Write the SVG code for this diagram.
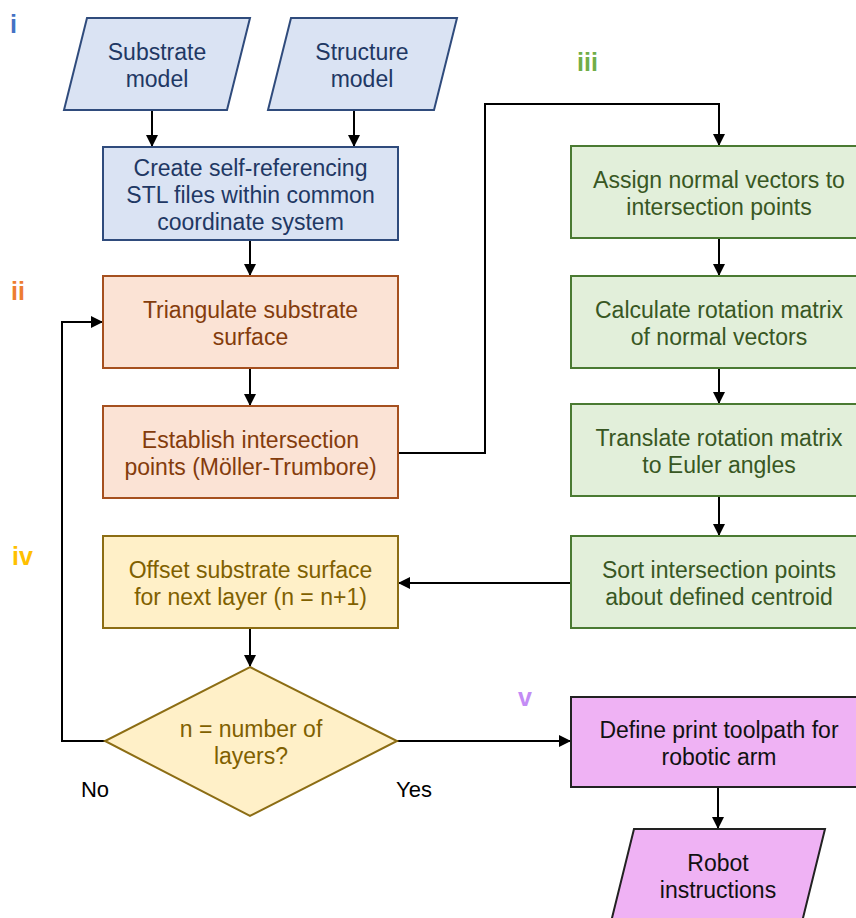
<svg xmlns="http://www.w3.org/2000/svg" width="856" height="918" viewBox="0 0 856 918">
<style>
text{font-family:"Liberation Sans",Arial,sans-serif;font-size:23px;text-anchor:middle}
.lab{font-weight:bold;font-size:25px;text-anchor:start}
.blue rect,.blue path{fill:#dae3f3;stroke:#2f4b7c;stroke-width:2}
.blue text{fill:#1f3864}
.orange rect{fill:#fbe3d5;stroke:#a5501f;stroke-width:2}
.orange text{fill:#843c0c}
.green rect{fill:#e2efda;stroke:#4a7a32;stroke-width:2}
.green text{fill:#385723}
.yellow rect,.yellow path{fill:#fff0c8;stroke:#8c6d14;stroke-width:2}
.yellow text{fill:#7f6000}
.purple rect,.purple path{fill:#efb2f4;stroke:#222;stroke-width:2}
.purple text{fill:#111}
.conn path{fill:none;stroke:#000;stroke-width:2}
.yn{font-size:22px;fill:#000}
</style>
<defs>
<marker id="ah" markerWidth="12" markerHeight="12" refX="11" refY="6" orient="auto" markerUnits="userSpaceOnUse">
<path d="M0,0 L12,6 L0,12 Z" fill="#000"/>
</marker>
</defs>

<text class="lab" x="10" y="33" fill="#4472c4">i</text>
<text class="lab" x="11" y="300" fill="#ed7d31">ii</text>
<text class="lab" x="577" y="71" fill="#70ad47">iii</text>
<text class="lab" x="12" y="565" fill="#ffc000">iv</text>
<text class="lab" x="518" y="706" fill="#c38cf5">v</text>

<g class="conn">
<path d="M152,110 V146" marker-end="url(#ah)"/>
<path d="M354,110 V146" marker-end="url(#ah)"/>
<path d="M250,240 V275" marker-end="url(#ah)"/>
<path d="M250,368 V405" marker-end="url(#ah)"/>
<path d="M398,453 H485 V104 H719 V145" marker-end="url(#ah)"/>
<path d="M719,238 V275" marker-end="url(#ah)"/>
<path d="M719,368 V403" marker-end="url(#ah)"/>
<path d="M719,496 V535" marker-end="url(#ah)"/>
<path d="M571,583 H399" marker-end="url(#ah)"/>
<path d="M250,628 V666" marker-end="url(#ah)"/>
<path d="M105,741 H62 V322 H102" marker-end="url(#ah)"/>
<path d="M397,741 H570" marker-end="url(#ah)"/>
<path d="M718,787 V828" marker-end="url(#ah)"/>
<text class="yn" x="95" y="797">No</text>
<text class="yn" x="414" y="797">Yes</text>
</g>

<g id="substrate-model" class="blue">
<path d="M87,18 H250 L227,110 H64 Z"/>
<text x="157" y="60">Substrate</text>
<text x="157" y="87">model</text>
</g>
<g id="structure-model" class="blue">
<path d="M291,18 H457 L434,110 H268 Z"/>
<text x="362" y="60">Structure</text>
<text x="362" y="87">model</text>
</g>
<g id="create-stl" class="blue">
<rect x="103" y="147" width="295" height="93"/>
<text x="250.5" y="176">Create self-referencing</text>
<text x="250.5" y="203">STL files within common</text>
<text x="250.5" y="230">coordinate system</text>
</g>

<g id="triangulate" class="orange">
<rect x="103" y="276" width="295" height="92"/>
<text x="250.5" y="318">Triangulate substrate</text>
<text x="250.5" y="345">surface</text>
</g>
<g id="establish" class="orange">
<rect x="103" y="406" width="295" height="92"/>
<text x="250.5" y="448">Establish intersection</text>
<text x="250.5" y="475">points (Möller-Trumbore)</text>
</g>

<g id="assign" class="green">
<rect x="571" y="146" width="296" height="92"/>
<text x="719" y="188">Assign normal vectors to</text>
<text x="719" y="215">intersection points</text>
</g>
<g id="calculate" class="green">
<rect x="571" y="276" width="296" height="92"/>
<text x="719" y="318">Calculate rotation matrix</text>
<text x="719" y="345">of normal vectors</text>
</g>
<g id="translate" class="green">
<rect x="571" y="404" width="296" height="92"/>
<text x="719" y="446">Translate rotation matrix</text>
<text x="719" y="473">to Euler angles</text>
</g>
<g id="sort" class="green">
<rect x="571" y="536" width="296" height="92"/>
<text x="719" y="578">Sort intersection points</text>
<text x="719" y="605">about defined centroid</text>
</g>

<g id="offset" class="yellow">
<rect x="103" y="536" width="295" height="92"/>
<text x="250.5" y="578">Offset substrate surface</text>
<text x="250.5" y="605">for next layer (n = n+1)</text>
</g>
<g id="decision" class="yellow">
<path d="M250,667 L397,741 L250,816 L105,741 Z"/>
<text x="251" y="737">n = number of</text>
<text x="251" y="764">layers?</text>
</g>

<g id="define-toolpath" class="purple">
<rect x="571" y="697" width="296" height="90"/>
<text x="719" y="738">Define print toolpath for</text>
<text x="719" y="765">robotic arm</text>
</g>
<g id="robot-instructions" class="purple">
<path d="M634,829 H825 L802,922 H611 Z"/>
<text x="718" y="871">Robot</text>
<text x="718" y="898">instructions</text>
</g>
</svg>
